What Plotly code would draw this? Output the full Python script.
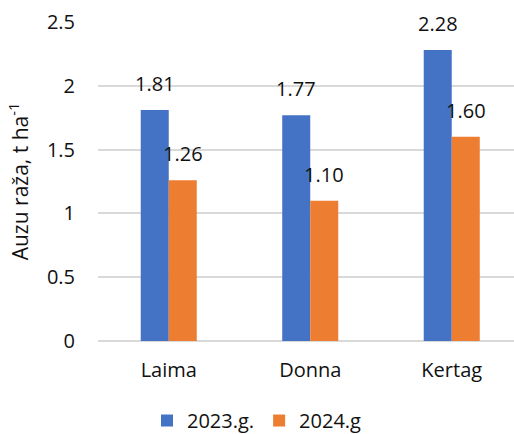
import plotly.graph_objects as go

# Grain yield per variety, two seasons
varieties = ["Laima", "Donna", "Kertag"]
yield_2023 = [1.81, 1.77, 2.28]
yield_2024 = [1.26, 1.10, 1.60]
series_names = ["2023.g.", "2024.g"]
y_ticks = [0, 0.5, 1, 1.5, 2, 2.5]
y_tick_labels = ["0", "0.5", "1", "1.5", "2", "2.5"]

BLUE = "#4472C4"
ORANGE = "#ED7D31"
FONT = dict(family="Open Sans, Liberation Sans, sans-serif", size=20, color="#111111")
TITLE_FONT = dict(family="Open Sans, Liberation Sans, sans-serif", size=21, color="#111111")

fig = go.Figure()
for name, vals, col in [(series_names[0], yield_2023, BLUE), (series_names[1], yield_2024, ORANGE)]:
    fig.add_trace(go.Bar(x=varieties, y=vals, name=name, marker=dict(color=col, line=dict(width=0))))

# Value labels above each bar
half = 14
for vals, shift in [(yield_2023, -half), (yield_2024, half)]:
    for cat, v in zip(varieties, vals):
        fig.add_annotation(x=cat, y=v, text=f"{v:.2f}", showarrow=False,
                           xshift=shift, yshift=11, yanchor="bottom", font=FONT)

fig.update_layout(
    width=514, height=434,
    margin=dict(l=98, r=0, t=22, b=93),
    paper_bgcolor="white", plot_bgcolor="white",
    barmode="group", bargap=0.604, bargroupgap=0,
    font=FONT,
    showlegend=True,
    legend=dict(orientation="h", xref="container", yref="container",
                x=0.5, xanchor="center", y=0.076, yanchor="top",
                font=FONT, itemwidth=30, traceorder="normal"),
)
fig.update_xaxes(range=[-0.5, 2.44], showgrid=False, showline=False, ticks="",
                 tickfont=FONT, ticklabelstandoff=15)
fig.update_yaxes(range=[0, 2.5], tickvals=y_ticks, ticktext=y_tick_labels,
                 showgrid=True, gridcolor="#D9D9D9", gridwidth=1.5,
                 zeroline=True, zerolinecolor="#D9D9D9", zerolinewidth=1.5,
                 showline=False, ticks="", tickfont=FONT, ticklabelstandoff=22,
                 title=dict(text="Auzu raža, t ha<sup>-1</sup>", font=TITLE_FONT, standoff=12))

fig.write_html("out.html")
